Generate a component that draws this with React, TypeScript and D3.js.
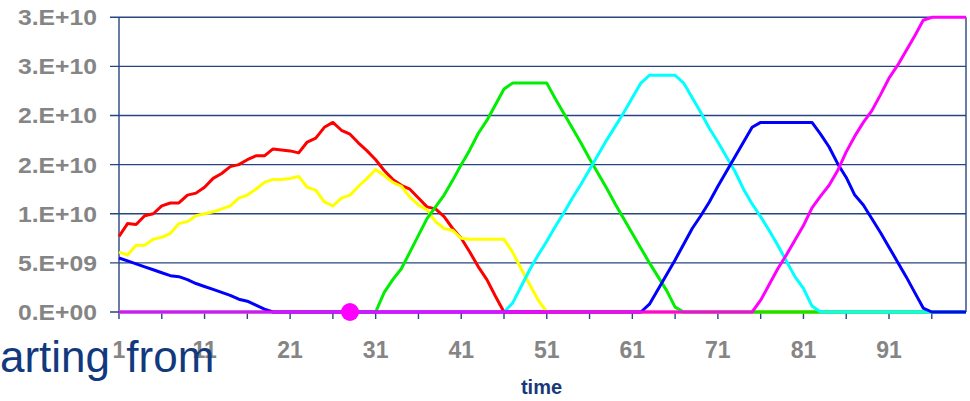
import React from 'react';
import * as d3 from 'd3';

// values in units of 1e9, one per time step 1..100
const time = d3.range(1, 101);

const red = [
  7.7, 9.0, 8.9, 9.8, 10.0, 10.8, 11.1, 11.1, 11.9, 12.1,
  12.7, 13.6, 14.1, 14.8, 15.0, 15.5, 15.9, 15.9, 16.6, 16.5,
  16.4, 16.2, 17.3, 17.7, 18.8, 19.3, 18.5, 18.1, 17.2, 16.4,
  15.5, 14.4, 13.5, 12.9, 12.5, 11.6, 10.7, 10.5, 9.7, 8.5,
  7.5, 6.1, 4.6, 3.3, 1.6, 0, 0, 0, 0, 0,
  0, 0, 0, 0, 0, 0, 0, 0, 0, 0,
  0, 0, 0, 0, 0, 0, 0, 0, 0, 0,
  0, 0, 0, 0, 0, 0, 0, 0, 0, 0,
  0, 0, 0, 0, 0, 0, 0, 0, 0, 0,
  0, 0, 0, 0, 0, 0, 0, 0, 0, 0,
];

const yellow = [
  6.1, 5.8, 6.8, 6.8, 7.4, 7.6, 8.0, 9.0, 9.2, 9.8,
  10.0, 10.2, 10.5, 10.8, 11.6, 11.9, 12.5, 13.2, 13.5, 13.5,
  13.6, 13.8, 12.7, 12.4, 11.2, 10.8, 11.6, 11.9, 12.8, 13.6,
  14.5, 13.9, 13.2, 12.8, 11.7, 10.9, 10.4, 9.2, 8.5, 8.3,
  7.5, 7.4, 7.4, 7.4, 7.4, 7.4, 6.1, 4.4, 2.8, 1.2,
  0, 0, 0, 0, 0, 0, 0, 0, 0, 0,
  0, 0, 0, 0, 0, 0, 0, 0, 0, 0,
  0, 0, 0, 0, 0, 0, 0, 0, 0, 0,
  0, 0, 0, 0, 0, 0, 0, 0, 0, 0,
  0, 0, 0, 0, 0, 0, 0, 0, 0, 0,
];

const green = [
  0, 0, 0, 0, 0, 0, 0, 0, 0, 0,
  0, 0, 0, 0, 0, 0, 0, 0, 0, 0,
  0, 0, 0, 0, 0, 0, 0, 0, 0, 0,
  0, 2.0, 3.3, 4.4, 6.1, 7.8, 9.5, 10.7, 11.9, 13.4,
  15.0, 16.5, 18.2, 19.5, 21.1, 22.7, 23.3, 23.3, 23.3, 23.3,
  23.3, 21.7, 20.2, 18.7, 17.2, 15.6, 14.1, 12.6, 11.0, 9.5,
  8.0, 6.5, 5.0, 3.6, 2.2, 0.5, 0, 0, 0, 0,
  0, 0, 0, 0, 0, 0, 0, 0, 0, 0,
  0, 0, 0, 0, 0, 0, 0, 0, 0, 0,
  0, 0, 0, 0, 0, 0, 0, 0, 0, 0,
];

const cyan = [
  0, 0, 0, 0, 0, 0, 0, 0, 0, 0,
  0, 0, 0, 0, 0, 0, 0, 0, 0, 0,
  0, 0, 0, 0, 0, 0, 0, 0, 0, 0,
  0, 0, 0, 0, 0, 0, 0, 0, 0, 0,
  0, 0, 0, 0, 0, 0, 0.9, 2.6, 4.3, 5.8,
  7.2, 8.7, 10.1, 11.6, 13.0, 14.5, 16.0, 17.5, 18.9, 20.3,
  21.8, 23.3, 24.1, 24.1, 24.1, 24.1, 23.3, 21.8, 20.3, 18.7,
  17.3, 15.8, 14.3, 12.5, 11.0, 9.7, 8.3, 6.8, 5.2, 3.6,
  2.4, 0.6, 0, 0, 0, 0, 0, 0, 0, 0,
  0, 0, 0, 0, 0, 0, 0, 0, 0, 0,
];

const blue = [
  5.5, 5.2, 4.9, 4.6, 4.3, 4.0, 3.7, 3.6, 3.3, 2.9,
  2.6, 2.3, 2.0, 1.7, 1.3, 1.1, 0.7, 0.3, 0, 0,
  0, 0, 0, 0, 0, 0, 0, 0, 0, 0,
  0, 0, 0, 0, 0, 0, 0, 0, 0, 0,
  0, 0, 0, 0, 0, 0, 0, 0, 0, 0,
  0, 0, 0, 0, 0, 0, 0, 0, 0, 0,
  0, 0, 0.8, 2.3, 3.8, 5.3, 6.9, 8.5, 9.8, 11.2,
  12.8, 14.3, 15.8, 17.3, 18.8, 19.3, 19.3, 19.3, 19.3, 19.3,
  19.3, 19.3, 18.1, 16.8, 15.1, 13.7, 11.9, 10.9, 9.5, 8.1,
  6.6, 5.1, 3.6, 2.0, 0.4, 0, 0, 0, 0, 0,
];

const magenta = [
  0, 0, 0, 0, 0, 0, 0, 0, 0, 0,
  0, 0, 0, 0, 0, 0, 0, 0, 0, 0,
  0, 0, 0, 0, 0, 0, 0, 0, 0, 0,
  0, 0, 0, 0, 0, 0, 0, 0, 0, 0,
  0, 0, 0, 0, 0, 0, 0, 0, 0, 0,
  0, 0, 0, 0, 0, 0, 0, 0, 0, 0,
  0, 0, 0, 0, 0, 0, 0, 0, 0, 0,
  0, 0, 0, 0, 0, 1.2, 2.8, 4.4, 5.8, 7.3,
  8.8, 10.6, 11.8, 12.9, 14.4, 16.3, 17.9, 19.3, 20.5, 22.1,
  23.8, 25.1, 26.6, 28.1, 29.7, 30, 30, 30, 30, 30,
];

const series = [
  { name: 'red', color: '#ff0000', values: red },
  { name: 'yellow', color: '#ffff00', values: yellow },
  { name: 'green', color: '#00ee00', values: green },
  { name: 'cyan', color: '#00ffff', values: cyan },
  { name: 'blue', color: '#0000ff', values: blue },
  { name: 'magenta', color: '#ff00ff', values: magenta },
];

const yTicks = [0, 5, 10, 15, 20, 25, 30];
const yTickLabels = ['0.E+00', '5.E+09', '1.E+10', '2.E+10', '2.E+10', '3.E+10', '3.E+10'];
const xTickMarks = [1, 6, 11, 16, 21, 26, 31, 36, 41, 46, 51, 56, 61, 66, 71, 76, 81, 86, 91, 96];
const xTickLabels = [1, 11, 21, 31, 41, 51, 61, 71, 81, 91];
const marker = { time: 28, value: 0 };

const W = 970;
const H = 401;
const margin = { top: 17.3, right: 4, bottom: 89, left: 119 };
const navy = '#27467f';
const gray = '#858585';

export default function App() {
  const x = d3.scaleLinear().domain([1, 100]).range([margin.left, W - margin.right]);
  const y = d3.scaleLinear().domain([0, 30]).range([H - margin.bottom, margin.top]);

  const line = d3
    .line<number>()
    .x((_, i) => x(time[i]))
    .y((d) => y(d));

  const x0 = x.range()[0];
  const x1 = x.range()[1];
  const y0 = y.range()[0];
  const y1 = y.range()[1];

  return (
    <svg
      width={W}
      height={H}
      style={{ position: 'absolute', left: 0, top: 0, background: '#fff' }}
      fontFamily="'Liberation Sans', Arial, sans-serif"
    >
      {/* grid */}
      {yTicks.map((t) => (
        <line key={'g' + t} x1={x0 - 9} x2={x1} y1={y(t)} y2={y(t)} stroke={navy} strokeWidth={1.4} />
      ))}
      <line x1={x0} x2={x0} y1={y1} y2={y0} stroke={navy} strokeWidth={1.4} />
      <line x1={x1} x2={x1} y1={y1} y2={y0} stroke={navy} strokeWidth={1.4} />
      {xTickMarks.map((t) => (
        <line key={'m' + t} x1={x(t)} x2={x(t)} y1={y0} y2={y0 + 7} stroke={navy} strokeWidth={1.4} />
      ))}

      {/* y labels */}
      {yTicks.map((t, i) => (
        <text
          key={'yl' + t}
          x={97}
          y={y(t)}
          dy="0.36em"
          textAnchor="end"
          fontSize={22}
          fontWeight="bold"
          fill={gray}
          textLength={79}
          lengthAdjust="spacingAndGlyphs"
        >
          {yTickLabels[i]}
        </text>
      ))}

      {/* x labels */}
      {xTickLabels.map((t) => (
        <text
          key={'xl' + t}
          x={x(t)}
          y={358}
          textAnchor="middle"
          fontSize={23}
          fontWeight="bold"
          fill={gray}
        >
          {t}
        </text>
      ))}

      {/* series */}
      {series.map((s) => (
        <path
          key={s.name}
          d={line(s.values) || ''}
          fill="none"
          stroke={s.color}
          strokeWidth={3}
          strokeLinejoin="round"
        />
      ))}

      <circle cx={x(marker.time)} cy={y(marker.value)} r={9} fill="#ff00ff" />

      <text x={(x0 + x1) / 2 - 1} y={394} textAnchor="middle" fontSize={20} fontWeight="bold" fill="#17397a">
        time
      </text>

      <text x={0} y={372} fontSize={44} fill="#12397d" wordSpacing={4}>
        arting from
      </text>
    </svg>
  );
}
